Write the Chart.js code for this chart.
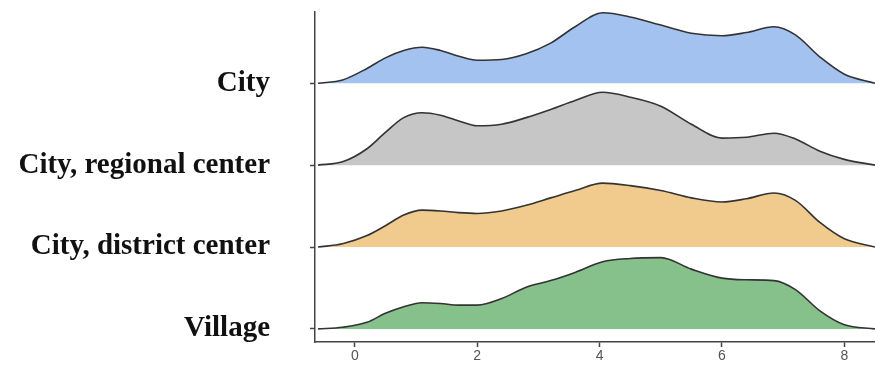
<!DOCTYPE html>
<html>
<head>
<meta charset="utf-8">
<script src="https://cdn.jsdelivr.net/npm/chart.js@4/dist/chart.umd.min.js"></script>
<style>
  html, body { margin: 0; padding: 0; background: #fff; overflow: hidden; }
  canvas { display: block; }
</style>
</head>
<body>
<canvas id="myChart" width="875" height="365"></canvas>
<script>
  // ridge categories, bottom to top
  const categories = ['Village', 'City, district center', 'City, regional center', 'City'];

  // shared x positions of the density samples
  const xs = [-0.6, -0.2, 0.2, 0.5, 0.8, 1.1, 1.4, 1.7, 2.0, 2.4, 2.8, 3.2, 3.6, 4.05,
              4.5, 5.0, 5.5, 6.0, 6.4, 6.85, 7.2, 7.6, 8.0, 8.5];

  // density heights above each ridge baseline
  const city     = [0, 0.04, 0.18, 0.31, 0.40, 0.44, 0.40, 0.33, 0.28, 0.29, 0.36, 0.49, 0.69, 0.86,
                    0.81, 0.71, 0.61, 0.58, 0.62, 0.69, 0.59, 0.32, 0.11, 0];
  const regional = [0, 0.04, 0.20, 0.40, 0.58, 0.64, 0.61, 0.54, 0.48, 0.50, 0.58, 0.68, 0.79, 0.89,
                    0.83, 0.72, 0.50, 0.33, 0.34, 0.39, 0.32, 0.17, 0.07, 0];
  const district = [0, 0.04, 0.14, 0.26, 0.39, 0.45, 0.44, 0.42, 0.41, 0.44, 0.51, 0.60, 0.69, 0.78,
                    0.75, 0.69, 0.60, 0.55, 0.59, 0.66, 0.57, 0.30, 0.10, 0];
  const village  = [0, 0.02, 0.08, 0.19, 0.27, 0.32, 0.31, 0.29, 0.29, 0.37, 0.51, 0.59, 0.69, 0.82,
                    0.86, 0.87, 0.73, 0.62, 0.60, 0.59, 0.48, 0.22, 0.05, 0];

  const xTicks = [0, 2, 4, 6, 8];
  const colors = ['#86c08a', '#f0cb8d', '#c6c6c6', '#a4c2ef'];

  const series = [village, district, regional, city];

  const datasets = series.map(function (vals, i) {
    return {
      label: categories[i],
      data: xs.map(function (x, j) { return { x: x, y: i + vals[j] }; }),
      backgroundColor: colors[i],
      borderColor: '#333333',
      borderWidth: 1.6,
      pointRadius: 0,
      cubicInterpolationMode: 'monotone',
      fill: { value: i }
    };
  }).reverse();

  const config = {
    type: 'line',
    data: { datasets: datasets },
    options: {
      responsive: false,
      animation: false,
      layout: { padding: { top: 12, left: 8, right: 0, bottom: 0 } },
      plugins: { legend: { display: false }, tooltip: { enabled: false } },
      scales: {
        x: {
          type: 'linear',
          min: -0.65,
          max: 8.5,
          afterBuildTicks: function (scale) {
            scale.ticks = xTicks.map(function (v) { return { value: v }; });
          },
          afterFit: function (scale) { scale.paddingLeft = 0; scale.paddingRight = 0; },
          grid: { drawOnChartArea: false, tickLength: 5, color: '#444', tickWidth: 1.5 },
          border: { display: true, color: '#444', width: 1.5 },
          ticks: { color: '#555', font: { family: 'Liberation Sans', size: 14, lineHeight: 1 }, padding: 2 }
        },
        y: {
          type: 'linear',
          min: -0.16,
          max: 3.87,
          afterBuildTicks: function (scale) {
            scale.ticks = categories.map(function (c, i) { return { value: i }; });
          },
          afterFit: function (scale) {
            scale.width = 307;
            scale.paddingTop = 0;
            scale.paddingBottom = 0;
          },
          grid: { drawOnChartArea: false, tickLength: 5, color: '#444', tickWidth: 1.5 },
          border: { display: true, color: '#444', width: 1.5 },
          ticks: {
            padding: 40,
            color: '#111',
            font: { family: 'Liberation Serif', size: 29, weight: 'bold' },
            callback: function (v) { return categories[v]; }
          }
        }
      }
    }
  };

  const myChart = new Chart(document.getElementById('myChart'), config);
</script>
</body>
</html>
